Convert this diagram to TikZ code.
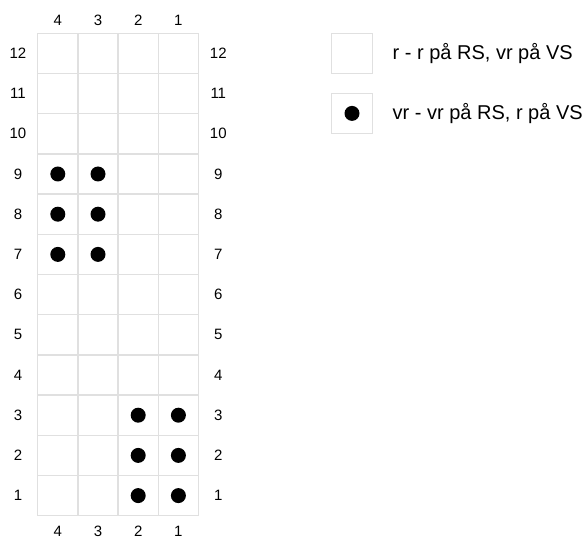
\documentclass[tikz,border=0pt]{standalone}
\usepackage{fontspec}
\setmainfont{Liberation Sans}
\begin{document}
\begin{tikzpicture}[x=1pt,y=-1pt,
  gridline/.style={draw=black!12,line width=1.5pt},
  lbl/.style={font=\fontsize{15}{17}\selectfont,inner sep=0pt,anchor=center},
  legtext/.style={font=\fontsize{20}{22}\selectfont,inner sep=0pt,anchor=west},
  stdot/.style={fill=black,draw=none}]
\useasboundingbox (0,0) rectangle (587,540);
\def\L{37.7}\def\T{33.3}\def\C{40.2}
% grid
\foreach \i in {0,...,4}{
  \draw[gridline] ({\L+\i*\C},\T) -- ({\L+\i*\C},{\T+12*\C});
}
\foreach \j in {0,...,12}{
  \draw[gridline] (\L,{\T+\j*\C}) -- ({\L+4*\C},{\T+\j*\C});
}
% column labels
\foreach \c [count=\i from 0] in {4,3,2,1}{
  \node[lbl] (ct\c) at ({\L+(\i+0.5)*\C},20.5) {\c};
  \node[lbl] (cb\c) at ({\L+(\i+0.5)*\C},531.7) {\c};
}
% row labels
\foreach \r in {1,...,12}{
  \node[lbl] (rl\r) at (18,{\T+(12-\r+0.5)*\C}) {\r};
  \node[lbl] (rr\r) at (218.3,{\T+(12-\r+0.5)*\C}) {\r};
}
% dots
\foreach \r in {7,8,9}{
  \foreach \i in {0,1}{
    \fill[stdot] ({\L+(\i+0.5)*\C},{\T+(12-\r+0.5)*\C}) circle (7.5);
  }
}
\foreach \r in {1,2,3}{
  \foreach \i in {2,3}{
    \fill[stdot] ({\L+(\i+0.5)*\C},{\T+(12-\r+0.5)*\C}) circle (7.5);
  }
}
% legend
\draw[gridline] (331.7,33.3) rectangle (372.3,73.5);
\draw[gridline] (331.7,93.3) rectangle (372.3,133.5);
\fill[stdot] (352,113.4) circle (7.5);
\node[legtext] (lg1) at (392.5,53.4) {r - r på RS, vr på VS};
\node[legtext] (lg2) at (392.5,113.4) {vr - vr på RS, r på VS};
\end{tikzpicture}
\end{document}
